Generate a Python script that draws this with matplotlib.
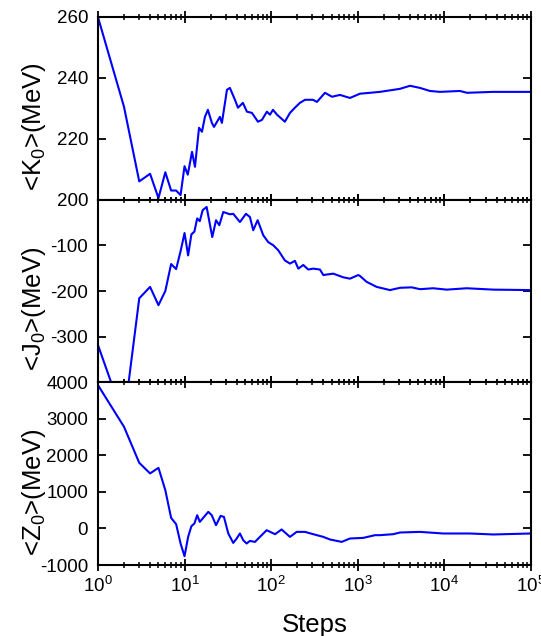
import matplotlib
matplotlib.use('Agg')
from matplotlib import pyplot as plt
from matplotlib.ticker import LogLocator

plt.rcParams['font.family'] = ['Liberation Sans', 'DejaVu Sans']
plt.rcParams['mathtext.default'] = 'regular'
plt.rcParams['axes.unicode_minus'] = False

# running averages
k_steps = [1, 2, 3, 4, 5, 6, 7, 8, 9, 10, 10.9, 12.2, 13.2, 14.7, 15.9, 17.2, 18.6,
           20.7, 21.9, 25.6, 27, 30.9, 33.4, 38.2, 41.4, 47.2, 52.5, 60, 70.4, 78.3,
           89.3, 96.9, 105, 117, 144, 165, 188, 215, 246, 304, 338, 418, 504, 623,
           812, 1060, 1383, 1803, 3070, 4010, 5230, 6820, 8900, 15140, 18240, 36400,
           100000]
k_vals = [260, 230.5, 206, 208.5, 200.5, 209, 203, 203, 201.5, 211, 208.2, 215.7,
          210.8, 223.6, 222.3, 227.2, 229.5, 225.2, 223.9, 227.2, 225.2, 236.1, 236.7,
          232.8, 230.2, 231.8, 228.9, 228.5, 225.6, 226.2, 228.9, 227.9, 229.5, 227.9,
          225.6, 228.5, 230.2, 231.8, 232.8, 232.8, 232.1, 235.1, 233.8, 234.4, 233.4,
          234.8, 235.1, 235.4, 236.4, 237.4, 236.7, 235.7, 235.4, 235.7, 235.1, 235.4,
          235.4]

j_steps = [1, 2, 3, 4, 5, 6, 7, 8, 9, 10, 11, 12, 13, 14, 15, 16.2, 18, 20.9, 23.1,
           25.2, 28, 33.4, 36.5, 43.6, 51.2, 56.9, 62.1, 69.8, 81.1, 92.6, 106, 121,
           132, 144, 165, 188, 206, 235, 268, 306, 366, 400, 521, 680, 813, 1014,
           1060, 1267, 1652, 2353, 3070, 4190, 5230, 7450, 10640, 18110, 36700, 100000]
j_vals = [-318, -480, -216, -191, -231, -200, -141, -152, -113, -73, -122, -76, -70,
          -41, -47, -23, -16, -82, -45, -56, -27, -32, -31, -49, -31, -38, -67, -45,
          -78, -93, -100, -111, -122, -133, -140, -134, -151, -143, -153, -151, -153,
          -165, -162, -170, -173, -165, -167, -180, -191, -198, -193, -192, -196,
          -194, -197, -194, -197, -198]

z_steps = [1, 2, 3, 4, 5, 6, 7, 8, 9, 10, 11, 12, 13, 14, 15, 16.8, 18.8, 20.6,
           23.1, 26.1, 28.5, 32, 36.5, 40, 43.6, 47.6, 52.1, 56.9, 65, 74.2, 88.7,
           111, 132, 165, 197, 246, 306, 400, 478, 652, 813, 1157, 1580, 1803, 2570,
           3070, 5230, 9710, 19770, 36700, 100000]
z_vals = [3926, 2784, 1797, 1507, 1660, 1049, 290, 118, -411, -760, -230, 63, 137,
          364, 181, 318, 455, 364, 90, 345, 318, -137, -395, -274, -137, -321, -411,
          -340, -367, -230, -47, -156, -27, -230, -93, -93, -156, -230, -301, -367,
          -274, -257, -183, -183, -156, -110, -93, -137, -137, -164, -137]

panels = [
    (k_steps, k_vals, '<K$_0$>(MeV)', (200, 260), [200, 220, 240, 260]),
    (j_steps, j_vals, '<J$_0$>(MeV)', (-400, 0), [-300, -200, -100]),
    (z_steps, z_vals, '<Z$_0$>(MeV)', (-1000, 4000), [-1000, 0, 1000, 2000, 3000, 4000]),
]

fig = plt.figure(figsize=(5.41, 6.36), dpi=100)
gs = fig.add_gridspec(3, 1, left=0.181, right=0.9815, top=0.9733, bottom=0.1116, hspace=0)

axes = []
for i, (steps, vals, label, ylim, yticks) in enumerate(panels):
    ax = fig.add_subplot(gs[i], sharex=axes[0] if axes else None)
    ax.plot(steps, vals, color='#0000ff', lw=1.5)
    ax.set_xscale('log')
    ax.set_xlim(1, 1e5)
    ax.set_ylim(*ylim)
    ax.set_yticks(yticks)
    ax.set_ylabel(label, fontsize=18.5)
    ax.yaxis.set_label_coords(-0.115, 0.4)
    ax.xaxis.set_major_locator(LogLocator(base=10, numticks=10))
    ax.xaxis.set_minor_locator(LogLocator(base=10, subs=range(2, 10), numticks=10))
    for s in ax.spines.values():
        s.set_linewidth(1.5)
    ax.tick_params(axis='y', which='major', direction='in', length=6, width=1.3,
                   right=True, labelsize=13.5, pad=7)
    ax.tick_params(axis='x', which='major', direction='inout', length=8, width=1.3,
                   top=True, labelsize=13.5, pad=4)
    ax.tick_params(axis='x', which='minor', direction='inout', length=4, width=1.1,
                   top=True)
    if i < 2:
        ax.tick_params(axis='x', labelbottom=False)
    axes.append(ax)

axes[-1].set_xlabel('Steps', fontsize=18.5, labelpad=12)

fig.savefig('out.png', dpi=100)
